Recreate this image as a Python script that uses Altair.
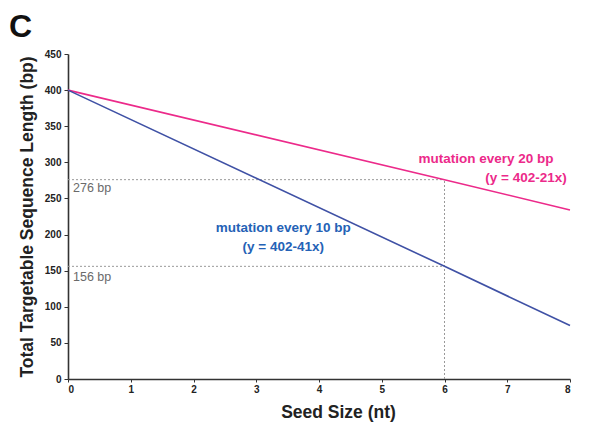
import altair as alt
import pandas as pd

# data
seed = [0, 6, 8]
every20 = [400, 276, 234]
every10 = [400, 156, 74]
series = ["mutation every 20 bp", "mutation every 10 bp"]
colors = ["#EC2A8A", "#3F51A5"]

ref_y = [276, 156]
ref_labels = ["276 bp", "156 bp"]
ref_x_end = 6

x_ticks = [0, 1, 2, 3, 4, 5, 6, 7, 8]
y_ticks = [0, 50, 100, 150, 200, 250, 300, 350, 400, 450]

FONT = "Liberation Sans"

lines_df = pd.DataFrame({
    "x": seed * 2,
    "y": every20 + every10,
    "s": [series[0]] * 3 + [series[1]] * 3,
})

hdf = pd.DataFrame({"x": [0, 0], "x2": [ref_x_end, ref_x_end], "y": ref_y})
vdf = pd.DataFrame({"x": [ref_x_end], "y": [0], "y2": [ref_y[0]]})
lab_df = pd.DataFrame({"x": [0.08, 0.08], "y": [264.5, 141.5], "t": ref_labels})

ann_df = pd.DataFrame({
    "x": [6.66, 7.30, 3.43, 3.43],
    "y": [305, 278, 209, 183],
    "t": ["mutation every 20 bp", "(y = 402-21x)", "mutation every 10 bp", "(y = 402-41x)"],
    "c": ["#EC2A8A", "#EC2A8A", "#2462B6", "#2462B6"],
})

xs = alt.Scale(domain=[0, 8], nice=False, zero=False)
ys = alt.Scale(domain=[0, 450], nice=False, zero=False)

xaxis = alt.Axis(values=x_ticks, format="d", labelOverlap=False, title="Seed Size (nt)", grid=False,
                 labelFont=FONT, labelFontWeight="bold", labelFontSize=10, labelColor="#222",
                 titleFont=FONT, titleFontWeight="bold", titleFontSize=17.5, titleColor="#222",
                 titlePadding=9, titleX=270, tickSize=3, tickColor="#333", domainColor="#333",
                 domainWidth=1.6, labelPadding=2)
yaxis = alt.Axis(values=y_ticks, format="d", labelOverlap=False,
                 title="Total Targetable Sequence Length (bp)",
                 grid=False, labelFont=FONT, labelFontWeight="bold", labelFontSize=10,
                 labelColor="#222", titleFont=FONT, titleFontWeight="bold", titleFontSize=17.5,
                 titleColor="#222", titlePadding=8, tickSize=4, tickColor="#333",
                 domainColor="#333", domainWidth=1.6, labelPadding=3)


def X():
    return alt.X("x:Q", scale=xs, axis=xaxis)


def Y():
    return alt.Y("y:Q", scale=ys, axis=yaxis)


hl = alt.Chart(hdf).mark_rule(color="#999", strokeDash=[2, 2], strokeWidth=1).encode(
    x=X(), x2="x2:Q", y=Y())
vl = alt.Chart(vdf).mark_rule(color="#999", strokeDash=[2, 2], strokeWidth=1).encode(
    x=X(), y=Y(), y2="y2:Q")

ln = alt.Chart(lines_df).mark_line(strokeWidth=1.6).encode(
    x=X(), y=Y(),
    color=alt.Color("s:N", scale=alt.Scale(domain=series, range=colors), legend=None))

labs = alt.Chart(lab_df).mark_text(align="left", baseline="middle", font=FONT,
                                   fontSize=12.5, color="#6A6A6A").encode(
    x=X(), y=Y(), text="t:N")

ann = alt.Chart(ann_df).mark_text(align="center", baseline="middle", font=FONT,
                                  fontSize=13.5, fontWeight="bold").encode(
    x=X(), y=Y(), text="t:N",
    color=alt.Color("c:N", scale=None))

panel = alt.Chart(pd.DataFrame({"t": ["C"]})).mark_text(
    align="left", baseline="alphabetic", font=FONT, fontSize=32, fontWeight="bold",
    color="#111").encode(x=alt.value(-59), y=alt.value(-17), text="t:N")

chart = alt.layer(hl, vl, ln, labs, ann, panel).properties(
    width=502, height=325,
    autosize=alt.AutoSizeParams(type="none"),
    padding={"left": 60, "top": 46, "right": 13, "bottom": 46},
).configure_view(stroke=None)

chart.save("out.html", embed_options={"renderer": "svg", "actions": False})
